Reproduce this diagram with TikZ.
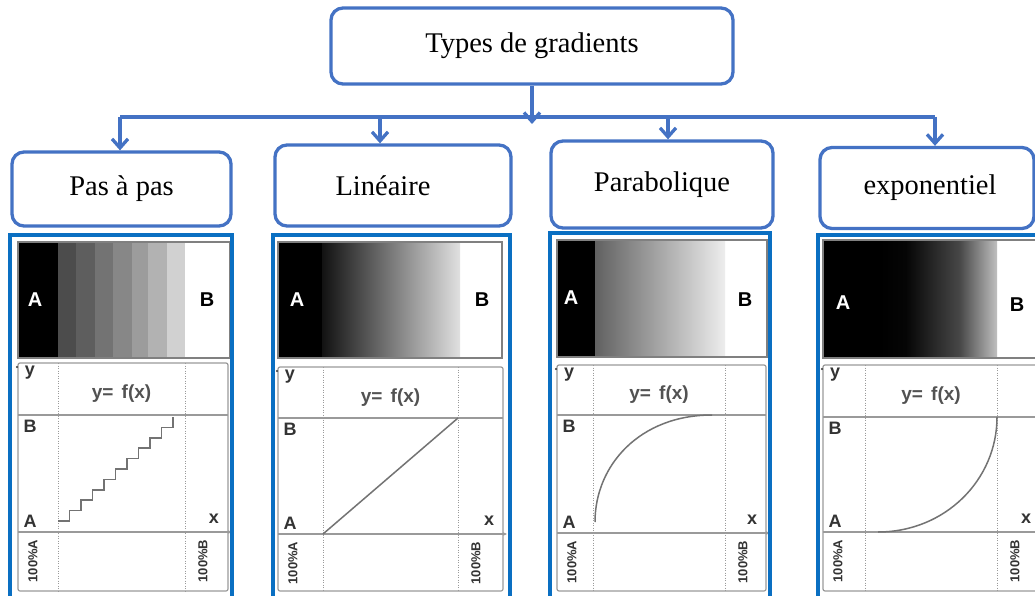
\documentclass[tikz,border=0pt]{standalone}
\usepackage{fontspec}
\setmainfont{Liberation Serif}
\newfontfamily\chartfont{Liberation Sans}
\usetikzlibrary{arrows.meta}
\definecolor{boxblue}{HTML}{4472C4}
\definecolor{panelblue}{HTML}{0A6FC2}
\definecolor{gridgray}{HTML}{9A9A9A}
\definecolor{inkgray}{HTML}{333333}
% dark ramp that stays black for a while, then brightens quickly
\pgfdeclarehorizontalshading{expgrad}{100bp}{color(0bp)=(black); color(25bp)=(black); color(36bp)=(black!98); color(59bp)=(black!72); color(75bp)=(black!25); color(100bp)=(black!25)}

% one graph: #1 name prefix, #2 left, #3 right, #4 top, #5 level B, #6 axis, #7 column A, #8 column B
\newcommand\gchart[8]{%
  \draw[chartline, rounded corners=2pt] (#2,#4) rectangle (#3,591);
  \draw[chartline] (#2,#5) -- (#3,#5);
  \draw[chartline, -{Stealth[length=4pt,width=3.5pt]}] (#2,#6) -- ({#3+4},#6);
  \draw[dotline] (#7,#4) -- (#7,591);
  \draw[dotline] (#8,#4) -- (#8,591);
  \fill[inkgray] ({#2-1},{#4+4}) circle (1.2pt);
  \node[clbl] (#1y) at ({#2+12},{#4+10}) {y};
  \node[fx] (#1f) at ({(#7+#8)/2},{(#4+#5)/2+5}) {y=\hspace{3pt} f(x)};
  \node[clbl] (#1B) at ({#2+12},{#5+11}) {B};
  \node[clbl] (#1A) at ({#2+12},{#6-11}) {A};
  \node[clbl] (#1x) at ({#3-14},{#6-13}) {x};
  \node[pct] (#1pa) at ({#2+15},{#6+29}) {100\%A};
  \node[pct] (#1pb) at ({#8+18},{#6+29}) {100\%B};
}

\begin{document}
\begin{tikzpicture}[x=1pt,y=-1pt,
  typebox/.style={draw=boxblue, line width=3.3pt, rounded corners=12pt, fill=white,
    font=\fontsize{28.5}{31}\selectfont, inner sep=0pt},
  arr/.style={draw=boxblue, line width=3.3pt, -{Straight Barb[length=9pt,width=16pt]}},
  bus/.style={draw=boxblue, line width=3.3pt},
  panel/.style={draw=panelblue, line width=3.2pt},
  strip/.style={draw=black!50, line width=1.5pt},
  chartline/.style={draw=gridgray, line width=1.2pt},
  dotline/.style={draw=gridgray, line width=0.8pt, dash pattern=on 1pt off 1.5pt},
  curve/.style={draw=black!55, line width=1.5pt},
  glbl/.style={font=\chartfont\bfseries\fontsize{20}{20}\selectfont, inner sep=0pt},
  clbl/.style={text=inkgray, font=\chartfont\bfseries\fontsize{18}{18}\selectfont, inner sep=0pt},
  fx/.style={text=inkgray!85, font=\chartfont\bfseries\fontsize{19}{19}\selectfont, inner sep=0pt},
  pct/.style={text=inkgray, font=\chartfont\bfseries\fontsize{13}{13}\selectfont, rotate=90, inner sep=0pt}]

\useasboundingbox (0,0) rectangle (1035,596);
\fill[white] (0,0) rectangle (1035,596);
\clip (0,0) rectangle (1035,596);

% ---- tree of gradient types ----
\node[typebox, minimum width=402pt, minimum height=76pt] (top) at (532,46) {Types de gradients};
\node[typebox, minimum width=219pt, minimum height=74pt] (c1) at (121.5,189) {Pas à pas};
\node[typebox, minimum width=236pt, minimum height=81pt] (c2) at (393,185.5) {Linéaire\hspace*{20pt}};
\node[typebox, minimum width=222pt, minimum height=87pt] (c3) at (662,184.5) {Parabolique};
\node[typebox, minimum width=214pt, minimum height=81pt] (c4) at (927,188) {\hspace*{6pt}exponentiel};

\coordinate (hub) at (532,124);
\coordinate (b1) at (120,117);
\coordinate (b2) at (380,117);
\coordinate (b3) at (668,117);
\coordinate (b4) at (935,117);

\draw[bus] (b1) -- (b4);
\draw[arr] (top.south) -- (hub);
\draw[arr] (b1) -- (b1 |- c1.north);
\draw[arr] (b2) -- (b2 |- c2.north);
\draw[arr] (b3) -- (b3 |- c3.north);
\draw[arr] (b4) -- (b4 |- c4.north);

% ---- panel 1: step gradient ----
\fill[black] (18,242) rectangle (58,358);
\fill[black!70] (58,242) rectangle (76,358);
\fill[black!63] (76,242) rectangle (95,358);
\fill[black!55] (95,242) rectangle (113,358);
\fill[black!47] (113,242) rectangle (132,358);
\fill[black!39] (132,242) rectangle (148,358);
\fill[black!30] (148,242) rectangle (167,358);
\fill[black!18] (167,242) rectangle (185,358);
\draw[strip] (18,242) rectangle (230,358);
\node[glbl, text=white] (p1a) at (35,300) {A};
\node[glbl] (p1b) at (207,300) {B};
\gchart{q1}{18}{228}{363}{415}{532}{58}{185}
\draw[curve] (58,521) \foreach \i in {1,...,10} { -- ++(11.5,0) -- ++(0,-10.4) };
\draw[panel] (10,235) rectangle (232,605);

% ---- panel 2: linear gradient ----
\fill[black] (278,242) rectangle (322,358);
\shade[left color=black!93, right color=black!12] (322,242) rectangle (460,358);
\draw[strip] (278,242) rectangle (502,358);
\node[glbl, text=white] (p2a) at (297,300) {A};
\node[glbl] (p2b) at (482,300) {B};
\gchart{q2}{278}{503}{367}{418}{534}{323}{458}
\draw[curve] (323,534) -- (458,418);
\draw[panel] (273,235) rectangle (510,605);

% ---- panel 3: parabolic gradient ----
\fill[black] (557,240) rectangle (595,357);
\shade[left color=black!62, right color=black!7] (595,240) rectangle (725,357);
\draw[strip] (557,240) rectangle (767,357);
\node[glbl, text=white] (p3a) at (571,298) {A};
\node[glbl] (p3b) at (745,300) {B};
\gchart{q3}{557}{766}{365}{415}{533}{593}{725}
\draw[curve] (595,522) .. controls (595,465) and (640,415) .. (712,415);
\draw[panel] (550,233) rectangle (770,605);

% ---- panel 4: exponential gradient ----
\fill[black] (823,240) rectangle (880,358);
\shade[shading=expgrad] (880,240) rectangle (997,358);
\draw[strip] (823,240) rectangle (1040,358);
\node[glbl, text=white] (p4a) at (843,303) {A};
\node[glbl] (p4b) at (1017,305) {B};
\gchart{q4}{823}{1040}{365}{417}{532}{865}{997}
\draw[curve] (878,532) .. controls (945,532) and (997,480) .. (997,417);
\draw[panel] (818,235) rectangle (1045,605);
\end{tikzpicture}
\end{document}
